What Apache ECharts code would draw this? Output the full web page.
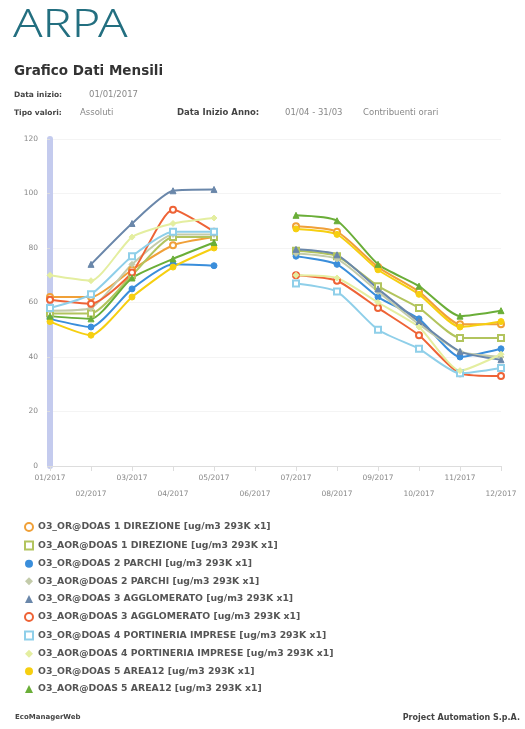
<!DOCTYPE html>
<html><head><meta charset="utf-8">
<script src="https://cdn.jsdelivr.net/npm/echarts@6/dist/echarts.min.js"></script>
<style>html,body{margin:0;padding:0;background:#fff}#c{width:525px;height:729px}</style>
</head><body><div id="c"></div>
<script>
const categories = ['01/2017','02/2017','03/2017','04/2017','05/2017','06/2017','07/2017','08/2017','09/2017','10/2017','11/2017','12/2017'];
const yTicks = [0,20,40,60,80,100,120];
const names = [
 'O3_OR@DOAS 1 DIREZIONE [ug/m3 293K x1]',
 'O3_AOR@DOAS 1 DIREZIONE [ug/m3 293K x1]',
 'O3_OR@DOAS 2 PARCHI [ug/m3 293K x1]',
 'O3_AOR@DOAS 2 PARCHI [ug/m3 293K x1]',
 'O3_OR@DOAS 3 AGGLOMERATO [ug/m3 293K x1]',
 'O3_AOR@DOAS 3 AGGLOMERATO [ug/m3 293K x1]',
 'O3_OR@DOAS 4 PORTINERIA IMPRESE [ug/m3 293K x1]',
 'O3_AOR@DOAS 4 PORTINERIA IMPRESE [ug/m3 293K x1]',
 'O3_OR@DOAS 5 AREA12 [ug/m3 293K x1]',
 'O3_AOR@DOAS 5 AREA12 [ug/m3 293K x1]'
];
const dir1OR   = [62, 62, 72, 81, 84, null, 88, 86, 73, 64, 52, 52];
const dir1AOR  = [56, 56, 70, 84, 84, null, 79, 77, 66, 58, 47, 47];
const par2OR   = [54, 51, 65, 74, 73.5, null, 77, 74, 62, 54, 40, 43];
const par2AOR  = [57, 58, 74, 85, 85, null, 78, 76, 64, 52, 42, 40];
const agg3OR   = [null, 74, 89, 101, 101.5, null, 79.5, 77.5, 65, 53, 42, 39];
const agg3AOR  = [61, 59.5, 71, 94, 86, null, 70, 68, 58, 48, 34, 33];
const por4OR   = [58, 63, 77, 86, 86, null, 67, 64, 50, 43, 34, 36];
const por4AOR  = [70, 68, 84, 89, 91, null, 70, 69, 60, 51, 35, 41];
const are5OR   = [53, 48, 62, 73, 80, null, 87, 85, 72, 63, 51, 53];
const are5AOR  = [55, 54, 69, 76, 82, null, 92, 90, 74, 66, 55, 57];
const seriesData = [dir1OR, dir1AOR, par2OR, par2AOR, agg3OR, agg3AOR, por4OR, por4AOR, are5OR, are5AOR];
const colors = ['#f0a038','#b2c45e','#3a8edb','#c3cbaa','#6a87aa','#ee6336','#8fcfe9','#e4eea0','#f6cf10','#6aae38'];
const symbols = ['emptyCircle','emptyRect','circle','diamond','triangle','emptyCircle','emptyRect','diamond','circle','triangle'];

const chart = echarts.init(document.getElementById('c'));
const ff = 'DejaVu Sans';
chart.setOption({
  animation: false,
  color: colors,
  graphic: [
    {type:'text', left: 13, top: 7, scaleX: 1.28, scaleY: 1,
      style:{text:'ARPA', font:'300 38px "Noto Sans"', fill:'#236f80'}},
    {type:'text', left: 14, top: 64, style:{text:'Grafico Dati Mensili', font:'bold 13.5px "DejaVu Sans"', fill:'#333'}},
    {type:'text', left: 14, top: 91, style:{text:'Data inizio:', font:'bold 7.5px "DejaVu Sans"', fill:'#444'}},
    {type:'text', left: 89, top: 90, style:{text:'01/01/2017', font:'8.5px "DejaVu Sans"', fill:'#888'}},
    {type:'text', left: 14, top: 109, style:{text:'Tipo valori:', font:'bold 7.5px "DejaVu Sans"', fill:'#444'}},
    {type:'text', left: 80, top: 108, style:{text:'Assoluti', font:'8.5px "DejaVu Sans"', fill:'#888'}},
    {type:'text', left: 177, top: 108, style:{text:'Data Inizio Anno:', font:'bold 8.5px "DejaVu Sans"', fill:'#444'}},
    {type:'text', left: 285, top: 108, style:{text:'01/04 - 31/03', font:'8.5px "DejaVu Sans"', fill:'#888'}},
    {type:'text', left: 363, top: 108, style:{text:'Contribuenti orari', font:'8.5px "DejaVu Sans"', fill:'#888'}},
    {type:'text', left: 15, top: 714, style:{text:'EcoManagerWeb', font:'bold 7px "DejaVu Sans"', fill:'#444'}},
    {type:'text', right: 5, top: 714, style:{text:'Project Automation S.p.A.', font:'bold 8px "DejaVu Sans"', fill:'#444'}}
  ],
  grid: {left: 50, right: 24, top: 139, bottom: 263},
  legend: {
    orient: 'vertical', left: 19, top: 517, itemWidth: 8, itemHeight: 8, itemGap: 8.6,
    textStyle: {fontFamily: ff, fontSize: 9.3, fontWeight: 'bold', color: '#555'},
    data: names.map((n, i) => ({name: n, icon: symbols[i]}))
  },
  xAxis: {
    type: 'category', data: categories, boundaryGap: false,
    axisLine: {show: true, lineStyle: {color: '#ddd'}},
    axisTick: {show: true, lineStyle: {color: '#ddd'}},
    axisLabel: {interval: 0, fontFamily: ff, fontSize: 7.5, color: '#888', margin: 8,
      formatter: (v, i) => i % 2 ? '\n\n' + v : v, lineHeight: 8}
  },
  yAxis: {
    type: 'value', min: 0, max: 120, interval: 20,
    axisLine: {show: true, lineStyle: {color: '#c4cbee', width: 6}},
    axisTick: {show: true, length: 3, lineStyle: {color: '#ddd'}},
    axisLabel: {fontFamily: ff, fontSize: 7.5, color: '#888', margin: 12,
      formatter: v => yTicks.includes(v) ? String(v) : ''},
    splitLine: {show: true, lineStyle: {color: '#f4f4f4'}}
  },
  series: seriesData.map((d, i) => ({
    name: names[i], type: 'line', data: d, smooth: 0.2, connectNulls: false,
    symbol: symbols[i], symbolSize: 6, showSymbol: true,
    lineStyle: {width: 2, color: colors[i]},
    itemStyle: {color: colors[i], borderColor: colors[i]}
  }))
});
</script></body></html>
